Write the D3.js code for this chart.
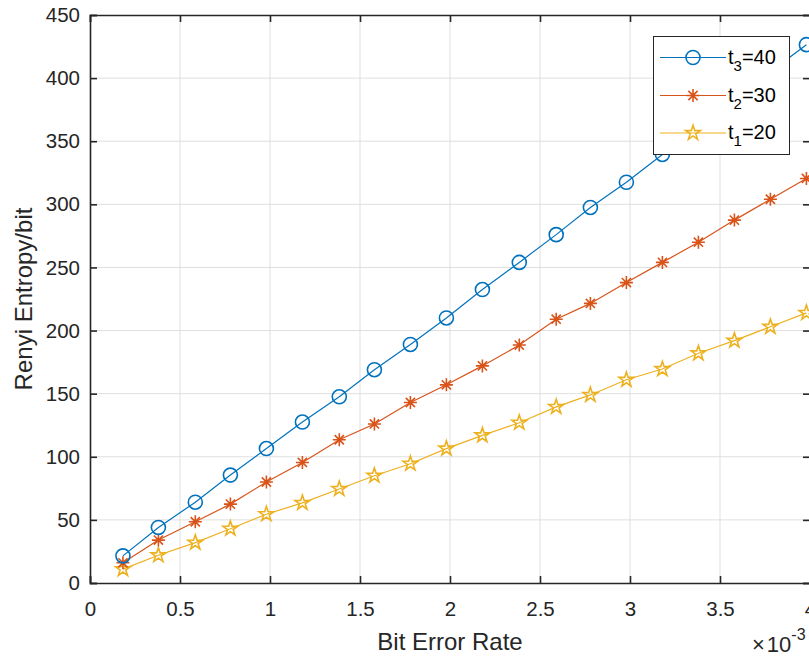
<!DOCTYPE html>
<html>
<head>
<meta charset="utf-8">
<script src="https://cdn.jsdelivr.net/npm/d3@7"></script>
<style>
  body { margin: 0; background: #fff; }
  svg { display: block; font-family: Arial, "Liberation Sans", Helvetica, sans-serif; }
</style>
</head>
<body>
<div class="chart-container"></div>
<script>
// --- Data (x in units of 1e-3) ---
var berValues = [0.183, 0.38, 0.585, 0.78, 0.98, 1.18, 1.385, 1.58, 1.78, 1.98,
                 2.18, 2.385, 2.59, 2.78, 2.98, 3.18, 3.38, 3.58, 3.78, 3.98];
var t3Values = [21.5, 44, 64, 85.5, 106.5, 127.5, 147.5, 169, 189, 210,
                232.5, 254, 276, 297.5, 317.5, 339.5, 361, 383, 405, 426.5];
var t2Values = [16, 34, 48.5, 62.5, 80, 95.5, 113.5, 126, 143, 157,
                172, 188.5, 209, 221.5, 238, 254, 270, 287.5, 304, 320.5];
var t1Values = [11, 22, 32, 43, 54.5, 63.5, 74.5, 85, 94.5, 106.5,
                117, 127, 139.5, 149, 161, 169.5, 182, 192, 203, 214];
var xTicks = [0, 0.5, 1, 1.5, 2, 2.5, 3, 3.5, 4];
var yTicks = [0, 50, 100, 150, 200, 250, 300, 350, 400, 450];

var series = [
  { name: "t3", sub: "3", val: "=40", values: t3Values, color: "#0072BD", marker: "circle" },
  { name: "t2", sub: "2", val: "=30", values: t2Values, color: "#D95319", marker: "asterisk" },
  { name: "t1", sub: "1", val: "=20", values: t1Values, color: "#EDB120", marker: "star" }
];

// --- Layout ---
const W = 809, H = 656;
const plotLeft = 90, plotRight = 810, plotTop = 15, plotBottom = 583;
const axisColor = "#262626";
const gridColor = "#dfdfdf";

var xScale = d3.scaleLinear().domain([0, 4]).range([plotLeft, plotRight]);
var yScale = d3.scaleLinear().domain([0, 450]).range([plotBottom, plotTop]);

var svg = d3.select(".chart-container")
  .append("svg")
  .attr("width", W)
  .attr("height", H);

// grid
svg.append("g").selectAll("line")
  .data(xTicks.slice(1, -1))
  .enter().append("line")
  .attr("x1", d => xScale(d)).attr("x2", d => xScale(d))
  .attr("y1", plotTop).attr("y2", plotBottom)
  .attr("stroke", gridColor).attr("stroke-width", 1);
svg.append("g").selectAll("line")
  .data(yTicks.slice(1, -1))
  .enter().append("line")
  .attr("x1", plotLeft).attr("x2", plotRight)
  .attr("y1", d => yScale(d)).attr("y2", d => yScale(d))
  .attr("stroke", gridColor).attr("stroke-width", 1);

// markers
var starPath = d3.symbol().type(d3.symbolStar).size(68)();
function asterisk(r) {
  var p = "";
  for (var k = 0; k < 4; k++) {
    var a = k * Math.PI / 4;
    var dx = r * Math.cos(a), dy = r * Math.sin(a);
    p += "M" + (-dx) + "," + (-dy) + "L" + dx + "," + dy;
  }
  return p;
}
function drawMarker(g, type, color) {
  if (type === "circle") {
    g.append("circle").attr("r", 7).attr("fill", "none")
      .attr("stroke", color).attr("stroke-width", 1.6);
  } else if (type === "asterisk") {
    g.append("path").attr("d", asterisk(6.5)).attr("fill", "none")
      .attr("stroke", color).attr("stroke-width", 1.6);
  } else {
    g.append("path").attr("d", starPath).attr("fill", "none")
      .attr("stroke", color).attr("stroke-width", 1.6);
  }
}

var line = d3.line()
  .x((d, i) => xScale(berValues[i]))
  .y(d => yScale(d));

// draw series in reverse so t3 ends on top
series.slice().reverse().forEach(function (s) {
  svg.append("path")
    .datum(s.values)
    .attr("d", line)
    .attr("fill", "none")
    .attr("stroke", s.color)
    .attr("stroke-width", 1.2);
  s.values.forEach(function (v, i) {
    var g = svg.append("g")
      .attr("transform", "translate(" + xScale(berValues[i]) + "," + yScale(v) + ")");
    drawMarker(g, s.marker, s.color);
  });
});

// axes box
var xAxis = d3.axisBottom(xScale).tickValues(xTicks).tickSize(-7).tickPadding(18)
  .tickFormat(d => d3.format("")(d));
var yAxis = d3.axisLeft(yScale).tickValues(yTicks).tickSize(-7).tickPadding(10);

var gx = svg.append("g").attr("transform", "translate(0," + plotBottom + ")").call(xAxis);
var gy = svg.append("g").attr("transform", "translate(" + plotLeft + ",0)").call(yAxis);
var gxt = svg.append("g").attr("transform", "translate(0," + plotTop + ")")
  .call(d3.axisTop(xScale).tickValues(xTicks).tickSize(-7).tickFormat(""));
var gyr = svg.append("g").attr("transform", "translate(" + plotRight + ",0)")
  .call(d3.axisRight(yScale).tickValues(yTicks).tickSize(-7).tickFormat(""));

[gx, gy, gxt, gyr].forEach(function (g) {
  g.select(".domain").attr("stroke", axisColor).attr("stroke-width", 1.6);
  g.selectAll(".tick line").attr("stroke", axisColor).attr("stroke-width", 1.6);
  g.selectAll(".tick text").attr("fill", axisColor)
    .attr("font-size", "20.5px").attr("font-family", "Arial, 'Liberation Sans', sans-serif");
});

// labels
svg.append("text")
  .attr("x", 450).attr("y", 650)
  .attr("text-anchor", "middle")
  .attr("font-size", "24px").attr("fill", axisColor)
  .text("Bit Error Rate");

svg.append("text")
  .attr("transform", "translate(32," + ((plotTop + plotBottom) / 2) + ") rotate(-90)")
  .attr("text-anchor", "middle")
  .attr("font-size", "24px").attr("fill", axisColor)
  .text("Renyi Entropy/bit");

var mult = svg.append("text")
  .attr("x", 752).attr("y", 652)
  .attr("font-size", "22px").attr("fill", axisColor);
mult.append("tspan").text("\u00d7");
mult.append("tspan").attr("dx", 2).text("10");
mult.append("tspan").attr("dy", -12).attr("font-size", "16px").text("-3");

// legend
var legend = svg.append("g");
legend.append("rect")
  .attr("x", 653.5).attr("y", 36.5)
  .attr("width", 136).attr("height", 118)
  .attr("fill", "#fff").attr("stroke", axisColor).attr("stroke-width", 1);
var rowY = [57.5, 95.5, 133];
series.forEach(function (s, i) {
  var y = rowY[i];
  legend.append("line")
    .attr("x1", 660).attr("x2", 726).attr("y1", y).attr("y2", y)
    .attr("stroke", s.color).attr("stroke-width", 1.2);
  var g = legend.append("g").attr("transform", "translate(693," + y + ")");
  drawMarker(g, s.marker, s.color);
  var t = legend.append("text")
    .attr("x", 728).attr("y", y + 6)
    .attr("font-size", "20px").attr("fill", "#000");
  t.append("tspan").text("t");
  t.append("tspan").attr("dy", 7).attr("font-size", "15px").text(s.sub);
  t.append("tspan").attr("dy", -7).text(s.val);
});
</script>
</body>
</html>
